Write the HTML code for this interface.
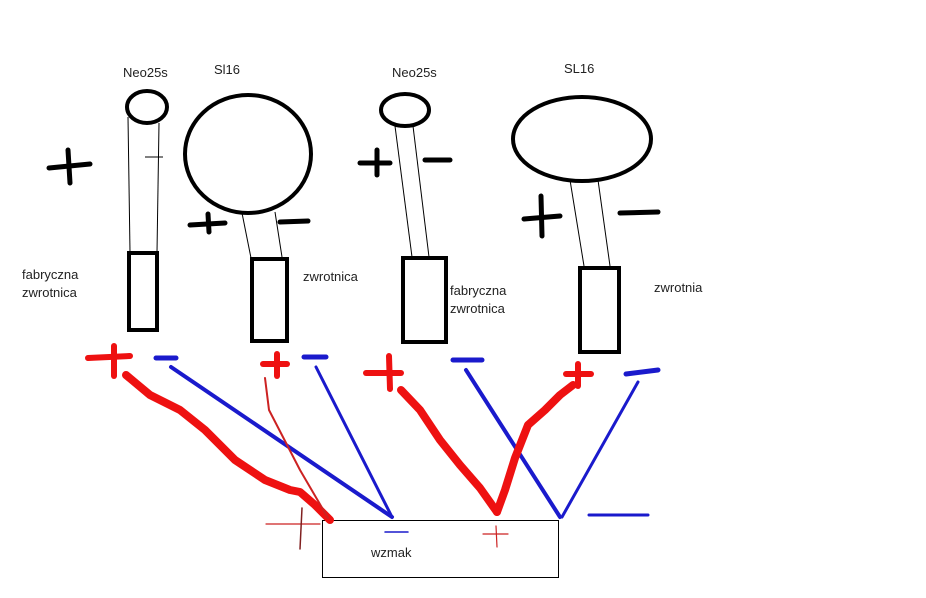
<!DOCTYPE html>
<html><head><meta charset="utf-8"><style>
html,body{margin:0;padding:0;background:#fff;width:926px;height:598px;overflow:hidden}
svg text{font-family:"Liberation Sans",sans-serif;font-size:13px;fill:#222}
</style></head><body>
<svg width="926" height="598" viewBox="0 0 926 598" xmlns="http://www.w3.org/2000/svg">
<g fill="none" stroke="#000">
<!-- speaker 1 -->
<ellipse cx="147" cy="107" rx="20" ry="16" stroke-width="4"/>
<line x1="128" y1="117" x2="130" y2="252" stroke-width="1"/>
<line x1="159" y1="123" x2="157" y2="252" stroke-width="1"/>
<line x1="145" y1="157" x2="163" y2="157" stroke-width="1"/>
<rect x="129" y="253" width="28" height="77" stroke-width="4"/>
<!-- speaker 2 -->
<ellipse cx="248" cy="154" rx="63" ry="59" stroke-width="4"/>
<line x1="242" y1="213" x2="251" y2="258" stroke-width="1"/>
<line x1="275" y1="212" x2="282" y2="257" stroke-width="1"/>
<rect x="252" y="259" width="35" height="82" stroke-width="4"/>
<!-- speaker 3 -->
<ellipse cx="405" cy="110" rx="24" ry="16" stroke-width="4"/>
<line x1="395" y1="126" x2="412" y2="257" stroke-width="1"/>
<line x1="413" y1="126" x2="429" y2="257" stroke-width="1"/>
<rect x="403" y="258" width="43" height="84" stroke-width="4"/>
<!-- speaker 4 -->
<ellipse cx="582" cy="139" rx="69" ry="42" stroke-width="4"/>
<line x1="570" y1="180" x2="584" y2="266" stroke-width="1"/>
<line x1="598" y1="180" x2="610" y2="266" stroke-width="1"/>
<rect x="580" y="268" width="39" height="84" stroke-width="4"/>
<!-- black +/- -->
<g stroke-width="5" stroke-linecap="round">
<line x1="49" y1="168" x2="90" y2="164"/><line x1="68" y1="150" x2="70" y2="183"/>
<line x1="190" y1="225" x2="225" y2="223"/><line x1="208" y1="214" x2="209" y2="232"/>
<line x1="280" y1="222" x2="308" y2="221"/>
<line x1="360" y1="163" x2="390" y2="163"/><line x1="377" y1="150" x2="377" y2="175"/>
<line x1="425" y1="160" x2="450" y2="160"/>
<line x1="524" y1="219" x2="560" y2="216"/><line x1="541" y1="196" x2="542" y2="236"/>
<line x1="620" y1="213" x2="658" y2="212"/>
</g>
</g>
<!-- amp -->
<rect x="322.5" y="520.5" width="236" height="57" fill="none" stroke="#000" stroke-width="1"/>
<!-- blue -->
<g stroke="#1a1acc" stroke-linecap="round" fill="none">
<line x1="156" y1="358" x2="176" y2="358" stroke-width="5"/>
<line x1="304" y1="357" x2="326" y2="357" stroke-width="5"/>
<line x1="453" y1="360" x2="482" y2="360" stroke-width="5"/>
<line x1="626" y1="374" x2="658" y2="370" stroke-width="5"/>
<line x1="171" y1="367" x2="392" y2="517" stroke-width="4"/>
<line x1="316" y1="367" x2="392" y2="517" stroke-width="3"/>
<line x1="466" y1="370" x2="560" y2="517" stroke-width="4"/>
<line x1="638" y1="382" x2="562" y2="517" stroke-width="3"/>
<line x1="589" y1="515" x2="648" y2="515" stroke-width="3"/>
<line x1="385" y1="532" x2="408" y2="532" stroke-width="1.5"/>
</g>
<!-- red -->
<g stroke="#ee1111" stroke-linecap="round" stroke-linejoin="round" fill="none">
<g stroke-width="6">
<line x1="88" y1="358" x2="130" y2="356"/><line x1="114" y1="346" x2="114" y2="376"/>
<line x1="263" y1="364" x2="287" y2="364"/><line x1="277" y1="354" x2="277" y2="376"/>
<line x1="366" y1="373" x2="401" y2="373"/><line x1="389" y1="356" x2="390" y2="389"/>
<line x1="566" y1="374" x2="591" y2="374"/><line x1="578" y1="364" x2="578" y2="386"/>
</g>
<polyline points="126,375 150,395 180,410 205,430 235,460 265,480 290,490 300,492 315,505 330,520" stroke-width="8"/>
<polyline points="401,390 420,410 440,440 460,465 480,488 497,512" stroke-width="8"/>
<polyline points="497,512 505,490 515,458 528,425 545,410 560,395 573,385" stroke-width="8"/>
<polyline points="265,378 269,410 300,470 328,518" stroke="#cc2222" stroke-width="2"/>
<line x1="266" y1="524" x2="320" y2="524" stroke="#cc2222" stroke-width="1.2"/>
<line x1="302" y1="508" x2="300" y2="549" stroke="#802020" stroke-width="1.5"/>
<line x1="483" y1="534" x2="508" y2="534" stroke="#cc2222" stroke-width="1.2"/>
<line x1="496" y1="526" x2="497" y2="547" stroke="#cc2222" stroke-width="1.2"/>
</g>
<text x="123" y="77">Neo25s</text>
<text x="214" y="74">Sl16</text>
<text x="392" y="77">Neo25s</text>
<text x="564" y="73">SL16</text>
<text x="22" y="279">fabryczna</text>
<text x="22" y="297">zwrotnica</text>
<text x="303" y="281">zwrotnica</text>
<text x="450" y="295">fabryczna</text>
<text x="450" y="313">zwrotnica</text>
<text x="654" y="292">zwrotnia</text>
<text x="371" y="557">wzmak</text>
</svg>
</body></html>
